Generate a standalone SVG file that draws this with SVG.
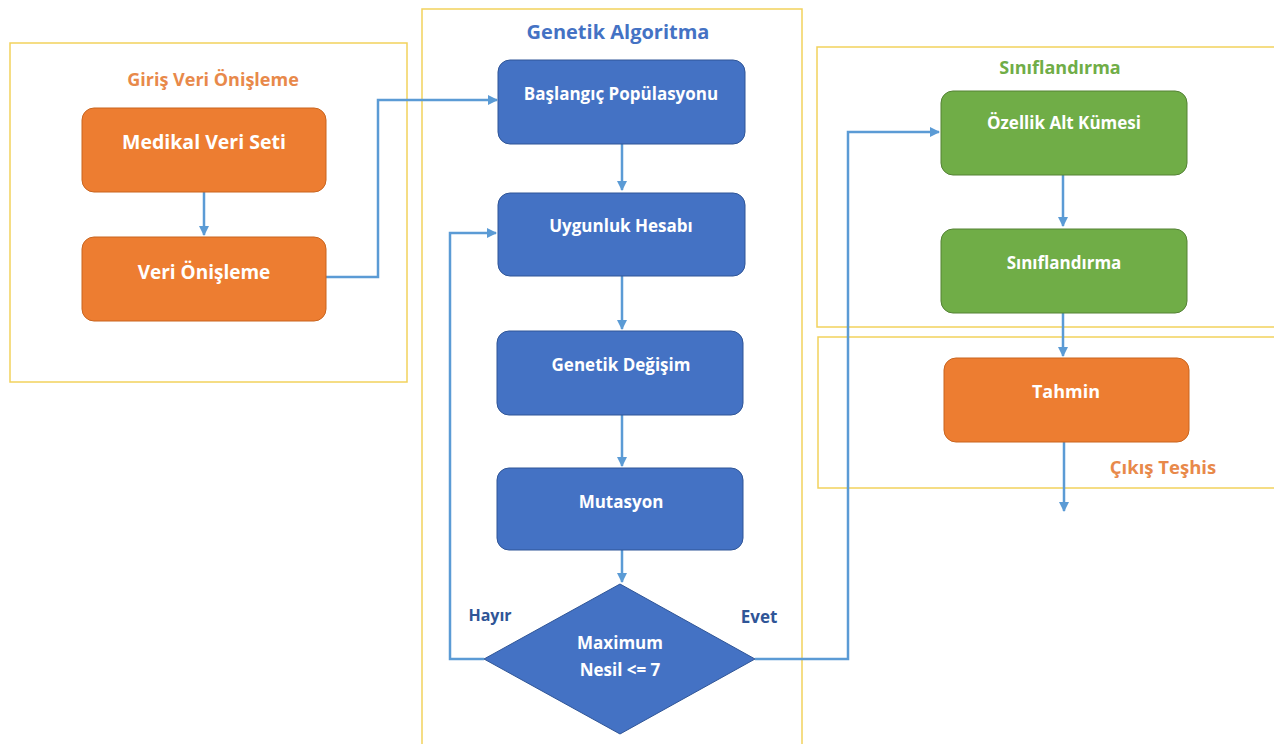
<svg xmlns="http://www.w3.org/2000/svg" width="1274" height="744" viewBox="0 0 1274 744">
<style>
.cont{fill:none;stroke:#F2D25C;stroke-width:1.5}
.t{font-family:"Open Sans","Liberation Sans",sans-serif;font-weight:bold;text-anchor:middle}
.w{fill:#fff;font-size:17px}
.or{fill:#ED7D31;stroke:#C9651F;stroke-width:1}
.bl{fill:#4472C4;stroke:#2F5597;stroke-width:1}
.gr{fill:#70AD47;stroke:#548235;stroke-width:1}
.c{fill:none;stroke:#5B9BD5;stroke-width:2.5;marker-end:url(#ah)}
</style>
<defs>
<marker id="ah" viewBox="0 0 10 10" refX="9" refY="5" markerWidth="4" markerHeight="4" orient="auto" markerUnits="strokeWidth">
<path d="M0,0 L10,5 L0,10 z" fill="#5B9BD5"/>
</marker>
</defs>
<rect width="1274" height="744" fill="#fff"/>
<g id="containers">
<rect class="cont" x="10" y="43" width="397" height="339"/>
<rect class="cont" x="422" y="9" width="380" height="740"/>
<rect class="cont" x="817" y="47" width="460" height="280"/>
<rect class="cont" x="818" y="337" width="460" height="151"/>
<text class="t" x="213" y="86" font-size="18" fill="#E8894A">Giriş Veri Önişleme</text>
<text class="t" x="618" y="39" font-size="20" fill="#4472C4">Genetik  Algoritma</text>
<text class="t" x="1060" y="74" font-size="18" fill="#70AD47">Sınıflandırma</text>
<text class="t" x="1163" y="474" font-size="18.5" fill="#E8894A">Çıkış Teşhis</text>
</g>
<g id="connectors">
<path class="c" d="M204,192 V235"/>
<path class="c" d="M326,277 H378 V100 H497"/>
<path class="c" d="M622,144 V190"/>
<path class="c" d="M622,276 V329"/>
<path class="c" d="M622,415 V466"/>
<path class="c" d="M622,550 V582"/>
<path class="c" d="M484,659 H450 V233 H496"/>
<path class="c" d="M755,659 H848 V132 H939"/>
<path class="c" d="M1063,175 V226"/>
<path class="c" d="M1063,313 V356"/>
<path class="c" d="M1064,442 V511"/>
</g>
<g id="n-medikal"><rect class="or" x="82" y="108" width="244" height="84" rx="12"/><text class="t w" x="204" y="149" style="font-size:19.5px">Medikal Veri Seti</text></g>
<g id="n-onisleme"><rect class="or" x="82" y="237" width="244" height="84" rx="12"/><text class="t w" x="204" y="279" style="font-size:19px">Veri Önişleme</text></g>
<g id="n-baslangic"><rect class="bl" x="498" y="60" width="247" height="84" rx="12"/><text class="t w" x="621" y="100">Başlangıç  Popülasyonu</text></g>
<g id="n-uygunluk"><rect class="bl" x="498" y="193" width="247" height="83" rx="12"/><text class="t w" x="621" y="232">Uygunluk Hesabı</text></g>
<g id="n-degisim"><rect class="bl" x="497" y="331" width="246" height="84" rx="12"/><text class="t w" x="621" y="371">Genetik Değişim</text></g>
<g id="n-mutasyon"><rect class="bl" x="497" y="468" width="246" height="82" rx="12"/><text class="t w" x="621" y="508">Mutasyon</text></g>
<g id="n-karar"><path class="bl" d="M620,584 L755,659 L620,734 L484,659 Z"/><text class="t w" x="620" y="649">Maximum</text><text class="t w" x="620" y="676">Nesil &lt;= 7</text></g>
<g id="l-hayir"><text class="t" x="490" y="621" font-size="16" fill="#2F5597">Hayır</text></g>
<g id="l-evet"><text class="t" x="759" y="623" font-size="17" fill="#2F5597">Evet</text></g>
<g id="n-ozellik"><rect class="gr" x="941" y="91" width="246" height="84" rx="12"/><text class="t w" x="1064" y="129">Özellik Alt Kümesi</text></g>
<g id="n-sinif"><rect class="gr" x="941" y="229" width="246" height="84" rx="12"/><text class="t w" x="1064" y="269">Sınıflandırma</text></g>
<g id="n-tahmin"><rect class="or" x="944" y="358" width="245" height="84" rx="12"/><text class="t w" x="1066" y="398" style="font-size:18px">Tahmin</text></g>
</svg>
